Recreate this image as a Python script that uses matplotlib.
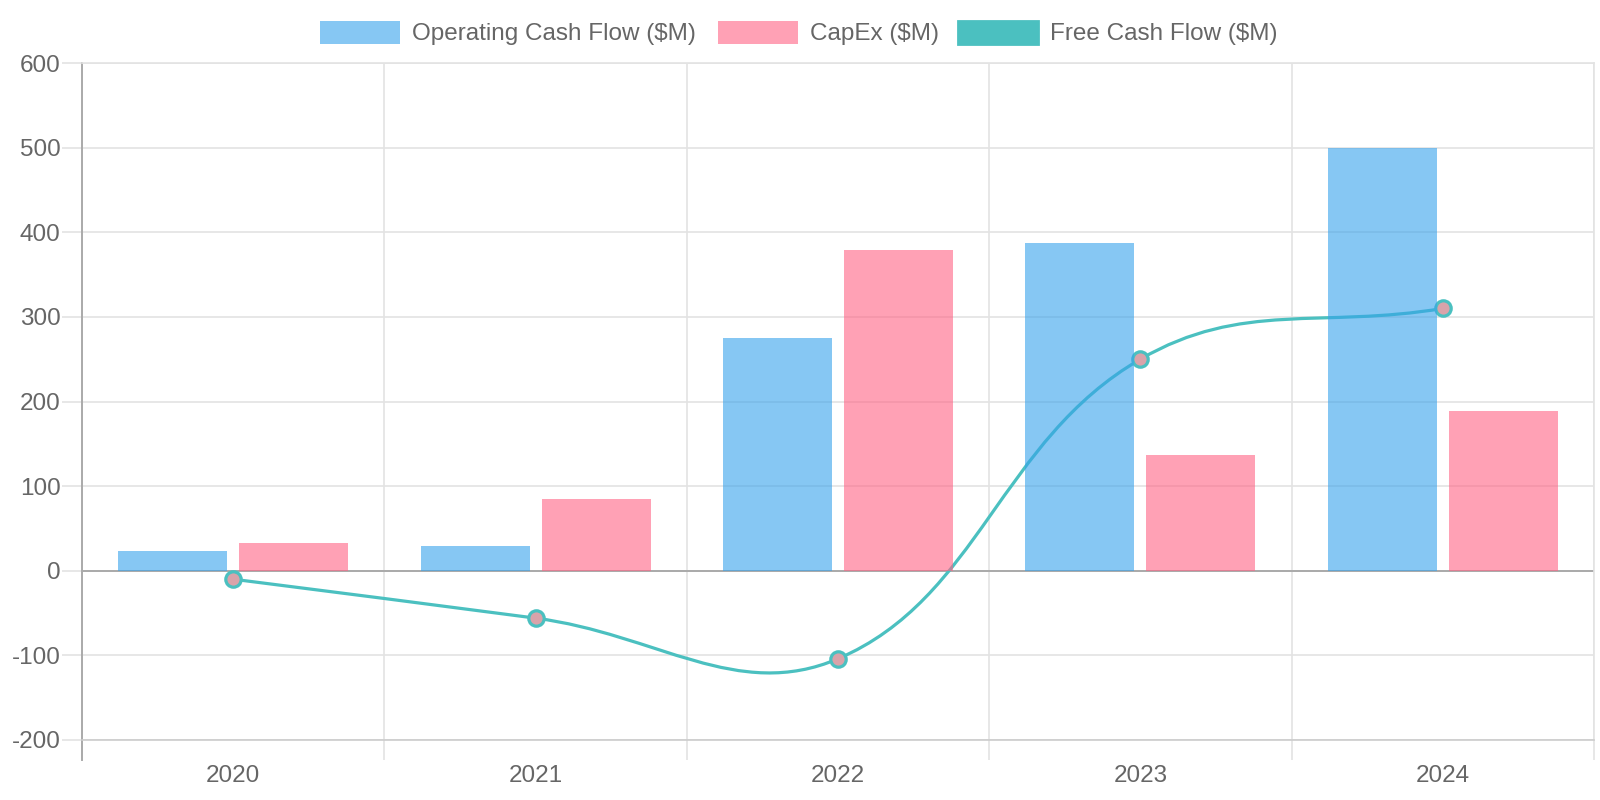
import matplotlib.pyplot as plt
from matplotlib.path import Path
from matplotlib.patches import PathPatch, Rectangle
import numpy as np

plt.rcParams['font.family'] = ['Liberation Sans', 'DejaVu Sans']

years = ['2020', '2021', '2022', '2023', '2024']
operating_cf = [23, 29, 275, 387, 500]
capex = [33, 85, 379, 137, 189]
free_cf = [-10, -56, -104, 250, 310]

BLUE = (54 / 255, 162 / 255, 235 / 255, 0.6)
PINK = (255 / 255, 99 / 255, 132 / 255, 0.6)
TEAL = '#4bc0c0'
TXT = '#666666'
GRID = '#e3e3e3'
PX = 72 / 100  # points per pixel at dpi 100


def tension_segments(px, py, t=0.4):
    # chart.js style cubic spline (tension) in display coords
    n = len(px)
    ctrl = []
    for i in range(n):
        pv = (px[max(i - 1, 0)], py[max(i - 1, 0)])
        cu = (px[i], py[i])
        nx = (px[min(i + 1, n - 1)], py[min(i + 1, n - 1)])
        d01 = np.hypot(cu[0] - pv[0], cu[1] - pv[1])
        d12 = np.hypot(nx[0] - cu[0], nx[1] - cu[1])
        tot = d01 + d12
        s01 = d01 / tot if tot else 0
        s12 = d12 / tot if tot else 0
        fa, fb = t * s01, t * s12
        prev_c = (cu[0] - fa * (nx[0] - pv[0]), cu[1] - fa * (nx[1] - pv[1]))
        next_c = (cu[0] + fb * (nx[0] - pv[0]), cu[1] + fb * (nx[1] - pv[1]))
        ctrl.append((prev_c, next_c))
    verts = [(px[0], py[0])]
    codes = [Path.MOVETO]
    for i in range(1, n):
        verts += [ctrl[i - 1][1], ctrl[i][0], (px[i], py[i])]
        codes += [Path.CURVE4] * 3
    return verts, codes


fig = plt.figure(figsize=(16, 8), dpi=100)
ax = fig.add_axes([82 / 1600, 60 / 800, (1594 - 82) / 1600, (737 - 60) / 800])

x = np.arange(len(years))
ax.set_xlim(-0.5, len(years) - 0.5)
ax.set_ylim(-200, 600)

ax.bar(x - 0.2, operating_cf, width=0.36, color=BLUE, zorder=3)
ax.bar(x + 0.2, capex, width=0.36, color=PINK, zorder=3)

# smooth free cash flow line (behind the bars)
disp = ax.transData.transform(np.column_stack([x, free_cf]))
verts, codes = tension_segments(disp[:, 0], disp[:, 1])
verts = ax.transData.inverted().transform(np.array(verts))
ax.add_patch(PathPatch(Path(verts, codes), fill=False, edgecolor=TEAL,
                       lw=3.2 * PX, zorder=2))
ax.plot(x, free_cf, 'o', ms=11 * PX * 1.4, mfc='#d9a3aa', mec=TEAL,
        mew=3.2 * PX, zorder=2.5)

# grid and axes
ax.set_yticks(range(-200, 601, 100))
ax.set_yticklabels([str(v) for v in range(-200, 601, 100)])
ax.set_xticks(x)
ax.set_xticklabels(years)
ax.set_xticks(np.arange(-0.5, len(years)), minor=True)
ax.grid(axis='y', color=GRID, lw=1.2)
ax.grid(axis='x', which='minor', color=GRID, lw=1.2)
ax.axhline(0, color='#aaaaaa', lw=1.4, zorder=1.8)
ax.tick_params(axis='y', length=20 * PX, color=GRID, width=1.2, pad=1,
               labelsize=17.5, labelcolor=TXT)
ax.tick_params(axis='x', which='major', length=0, pad=25 * PX,
               labelsize=17.5, labelcolor=TXT)
ax.tick_params(axis='x', which='minor', length=20 * PX, color=GRID, width=1.2)
for s in ['top', 'right']:
    ax.spines[s].set_color(GRID)
    ax.spines[s].set_linewidth(1.2)
ax.spines['bottom'].set_color('#cccccc')
ax.spines['bottom'].set_linewidth(1.2)
ax.spines['left'].set_color('#aaaaaa')
ax.spines['left'].set_linewidth(1.4)

# left axis line extends down like the tick marks
ax.plot([-0.5, -0.5], [-200, -224], color='#aaaaaa', lw=1.4, clip_on=False)

# legend, drawn by hand at the top
W, H = 1600, 800
items = [('Operating Cash Flow ($M)', BLUE, None, 320),
         ('CapEx ($M)', PINK, None, 718),
         ('Free Cash Flow ($M)', TEAL, TEAL, 958)]
for label, fc, ec, left in items:
    fig.patches.append(Rectangle((left / W, 1 - 44 / H), 80 / W, 23 / H,
                                 transform=fig.transFigure, facecolor=fc,
                                 edgecolor=ec if ec else 'none', lw=2))
    fig.text((left + 92) / W, 1 - 34 / H, label, fontsize=17.5, color=TXT,
             va='center', ha='left')

fig.savefig('out.png', dpi=100, facecolor='white')
